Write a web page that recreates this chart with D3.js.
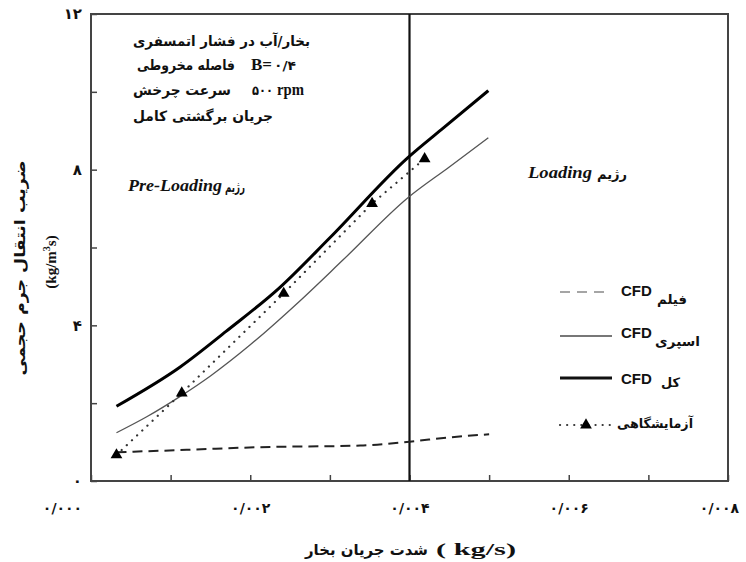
<!DOCTYPE html>
<html>
<head>
<meta charset="utf-8">
<script src="https://cdn.jsdelivr.net/npm/d3@7"></script>
<style>
  body { margin: 0; background: #fff; }
  svg { display: block; }
  .fa { font-family: "DejaVu Sans", sans-serif; font-weight: bold; }
  .lat { font-family: "Liberation Serif", "Times New Roman", serif; font-weight: bold; }
</style>
</head>
<body>
<svg id="chart" width="746" height="562"></svg>
<script>
// values (x: vapour flow kg/s, y: kg/m3s)
var totalCFD = [[0.00032, 1.92], [0.00112, 2.93], [0.0017, 3.85], [0.00237, 4.97],
  [0.0030, 6.25], [0.00398, 8.31], [0.0044, 9.03], [0.00499, 10.03]];
var sprayCFD = [[0.00032, 1.24], [0.0007, 1.65], [0.00114, 2.2], [0.0015, 2.7], [0.0020, 3.5],
  [0.00263, 4.64], [0.00317, 5.69], [0.00398, 7.28], [0.0045, 8.07], [0.00499, 8.82]];
var filmCFD = [[0.00032, 0.74], [0.0012, 0.8], [0.00212, 0.87], [0.00338, 0.91], [0.0040, 1.01],
  [0.0045, 1.12], [0.0050, 1.2]];
var experiment = [[0.00032, 0.67], [0.00114, 2.26], [0.00242, 4.82], [0.00353, 7.13], [0.00419, 8.28]];
var loadingPoint = 0.004;

var xTickValues = [0, 0.001, 0.002, 0.003, 0.004, 0.005, 0.006, 0.007, 0.008];
var xTickLabels = {0: '۰/۰۰۰', 0.002: '۰/۰۰۲', 0.004: '۰/۰۰۴', 0.006: '۰/۰۰۶', 0.008: '۰/۰۰۸'};
var yTickValues = [0, 2, 4, 6, 8, 10, 12];
var yTickLabels = {0: '۰', 4: '۴', 8: '۸', 12: '۱۲'};

var legendLabels = ['فیلم', 'اسپری', 'کل', 'آزمایشگاهی'];
var noteLines = ['بخار/آب در فشار اتمسفری', 'فاصله مخروطی', 'سرعت چرخش', 'جریان برگشتی کامل'];

var svg = d3.select('#chart');
var margin = {left: 91, top: 14, right: 18, bottom: 81};
var width = 746 - margin.left - margin.right;
var height = 562 - margin.top - margin.bottom;

var x = d3.scaleLinear().domain([0, 0.008]).range([0, width]);
var y = d3.scaleLinear().domain([0, 12]).range([height, 0]);

var g = svg.append('g').attr('transform', 'translate(' + margin.left + ',' + margin.top + ')');

// axes (ticks point inward)
var xAxis = g.append('g')
  .attr('transform', 'translate(0,' + height + ')')
  .call(d3.axisBottom(x).tickValues(xTickValues).tickSize(-6).tickPadding(22)
    .tickFormat(function(d) { return xTickLabels[d] || ''; }));
var yAxis = g.append('g')
  .call(d3.axisLeft(y).tickValues(yTickValues).tickSize(-6).tickPadding(9)
    .tickFormat(function(d) { return yTickLabels[d] || ''; }));

[xAxis, yAxis].forEach(function(a) {
  a.select('.domain').remove();
  a.selectAll('.tick line').attr('stroke', '#444').attr('stroke-width', 1.5);
  a.selectAll('.tick text')
    .attr('class', 'fa')
    .attr('direction', 'ltr')
    .style('font-size', '14px')
    .attr('fill', '#111');
});
// end labels are nudged in the reference
xAxis.selectAll('.tick text').filter(function(d) { return d === 0; }).attr('dx', -29);
xAxis.selectAll('.tick text').filter(function(d) { return d === 0.008; }).attr('dx', -9);
yAxis.selectAll('.tick text').style('font-size', '15px');

// frame
g.append('rect')
  .attr('width', width).attr('height', height)
  .attr('fill', 'none').attr('stroke', '#444').attr('stroke-width', 2);

// loading point
g.append('line')
  .attr('x1', x(loadingPoint)).attr('x2', x(loadingPoint))
  .attr('y1', 0).attr('y2', height)
  .attr('stroke', '#111').attr('stroke-width', 2.2);

var line = d3.line()
  .x(function(d) { return x(d[0]); })
  .y(function(d) { return y(d[1]); })
  .curve(d3.curveMonotoneX);

g.append('path').datum(filmCFD).attr('d', line)
  .attr('fill', 'none').attr('stroke', '#222').attr('stroke-width', 2)
  .attr('stroke-dasharray', '10,6');
g.append('path').datum(sprayCFD).attr('d', line)
  .attr('fill', 'none').attr('stroke', '#555').attr('stroke-width', 1.3);
g.append('path').datum(totalCFD).attr('d', line)
  .attr('fill', 'none').attr('stroke', '#000').attr('stroke-width', 3);

var linear = d3.line()
  .x(function(d) { return x(d[0]); })
  .y(function(d) { return y(d[1]); });
g.append('path').datum(experiment).attr('d', linear)
  .attr('fill', 'none').attr('stroke', '#333').attr('stroke-width', 2.2)
  .attr('stroke-linecap', 'round').attr('stroke-dasharray', '0.1,7');

var tri = d3.symbol().type(d3.symbolTriangle).size(60);
g.selectAll('.exp').data(experiment).enter().append('path')
  .attr('class', 'exp')
  .attr('d', tri)
  .attr('transform', function(d) { return 'translate(' + x(d[0]) + ',' + y(d[1]) + ')'; })
  .attr('fill', '#000');

// note block
function txt(cls, s, px, py, size, len) {
  var t = svg.append('text').attr('class', cls).attr('x', px).attr('y', py)
    .style('font-size', size + 'px').attr('fill', '#111').text(s);
  if (len) { t.attr('textLength', len).attr('lengthAdjust', 'spacingAndGlyphs'); }
  return t;
}
txt('fa', noteLines[0], 133, 46, 14, 177);
txt('fa', noteLines[1], 137, 70, 14, 98);
txt('lat', 'B=', 251, 70, 16, 21);
txt('fa', '۰/۴', 274, 70, 13, 22);
txt('fa', noteLines[2], 133, 95, 14, 98);
txt('fa', '۵۰۰', 252, 95, 13, 21);
txt('lat', 'rpm', 277, 95, 17, 27);
txt('fa', noteLines[3], 133, 121, 14, 140);

// regime labels
txt('lat', 'Pre-Loading', 128, 191, 16, 94).style('font-style', 'italic');
txt('fa', 'رژیم', 225, 192, 14, 20);
txt('lat', 'Loading', 528, 178, 16, 64).style('font-style', 'italic');
txt('fa', 'رژیم', 597, 179, 14, 30);

// legend
var lg = svg.append('g');
var rows = [296, 337, 379, 425];
lg.append('line').attr('x1', 560).attr('x2', 607).attr('y1', rows[0] - 4).attr('y2', rows[0] - 4)
  .attr('stroke', '#888').attr('stroke-width', 1.5).attr('stroke-dasharray', '10,7');
lg.append('line').attr('x1', 560).attr('x2', 612).attr('y1', rows[1] - 1).attr('y2', rows[1] - 1)
  .attr('stroke', '#777').attr('stroke-width', 2);
lg.append('line').attr('x1', 560).attr('x2', 612).attr('y1', rows[2] - 1).attr('y2', rows[2] - 1)
  .attr('stroke', '#111').attr('stroke-width', 3);
lg.append('line').attr('x1', 560).attr('x2', 612).attr('y1', rows[3]).attr('y2', rows[3])
  .attr('stroke', '#333').attr('stroke-width', 2.2)
  .attr('stroke-linecap', 'round').attr('stroke-dasharray', '0.1,7');
lg.append('path').attr('d', tri).attr('transform', 'translate(586,' + rows[3] + ')').attr('fill', '#000');

[296, 338, 384].forEach(function(r) {
  svg.append('text').attr('x', 621).attr('y', r)
    .style('font-family', '"Liberation Sans", Arial, sans-serif').style('font-weight', 'bold')
    .style('font-size', '15px').attr('fill', '#111').text('CFD');
});
txt('fa', legendLabels[0], 657, 304, 13, 30);
txt('fa', legendLabels[1], 655, 346, 13, 45);
txt('fa', legendLabels[2], 661, 387, 13, 19);
txt('fa', legendLabels[3], 617, 428, 13, 76);

// axis titles
svg.append('text').attr('class', 'fa')
  .attr('transform', 'translate(25,268) rotate(-90)')
  .attr('text-anchor', 'middle')
  .style('font-size', '15px').attr('fill', '#111')
  .attr('textLength', 215).attr('lengthAdjust', 'spacingAndGlyphs')
  .text('ضریب انتقال جرم حجمی');
var yUnit = svg.append('text').attr('class', 'lat')
  .attr('transform', 'translate(56,262) rotate(-90)')
  .attr('text-anchor', 'middle')
  .style('font-size', '15px').attr('fill', '#111');
yUnit.append('tspan').text('(kg/m');
yUnit.append('tspan').attr('dy', -6).style('font-size', '10px').text('3');
yUnit.append('tspan').attr('dy', 6).text('s)');

txt('fa', 'شدت جریان بخار', 305, 555, 15, 123);
txt('lat', '( kg/s)', 436, 555, 17, 80).attr('direction', 'ltr');
</script>
</body>
</html>
